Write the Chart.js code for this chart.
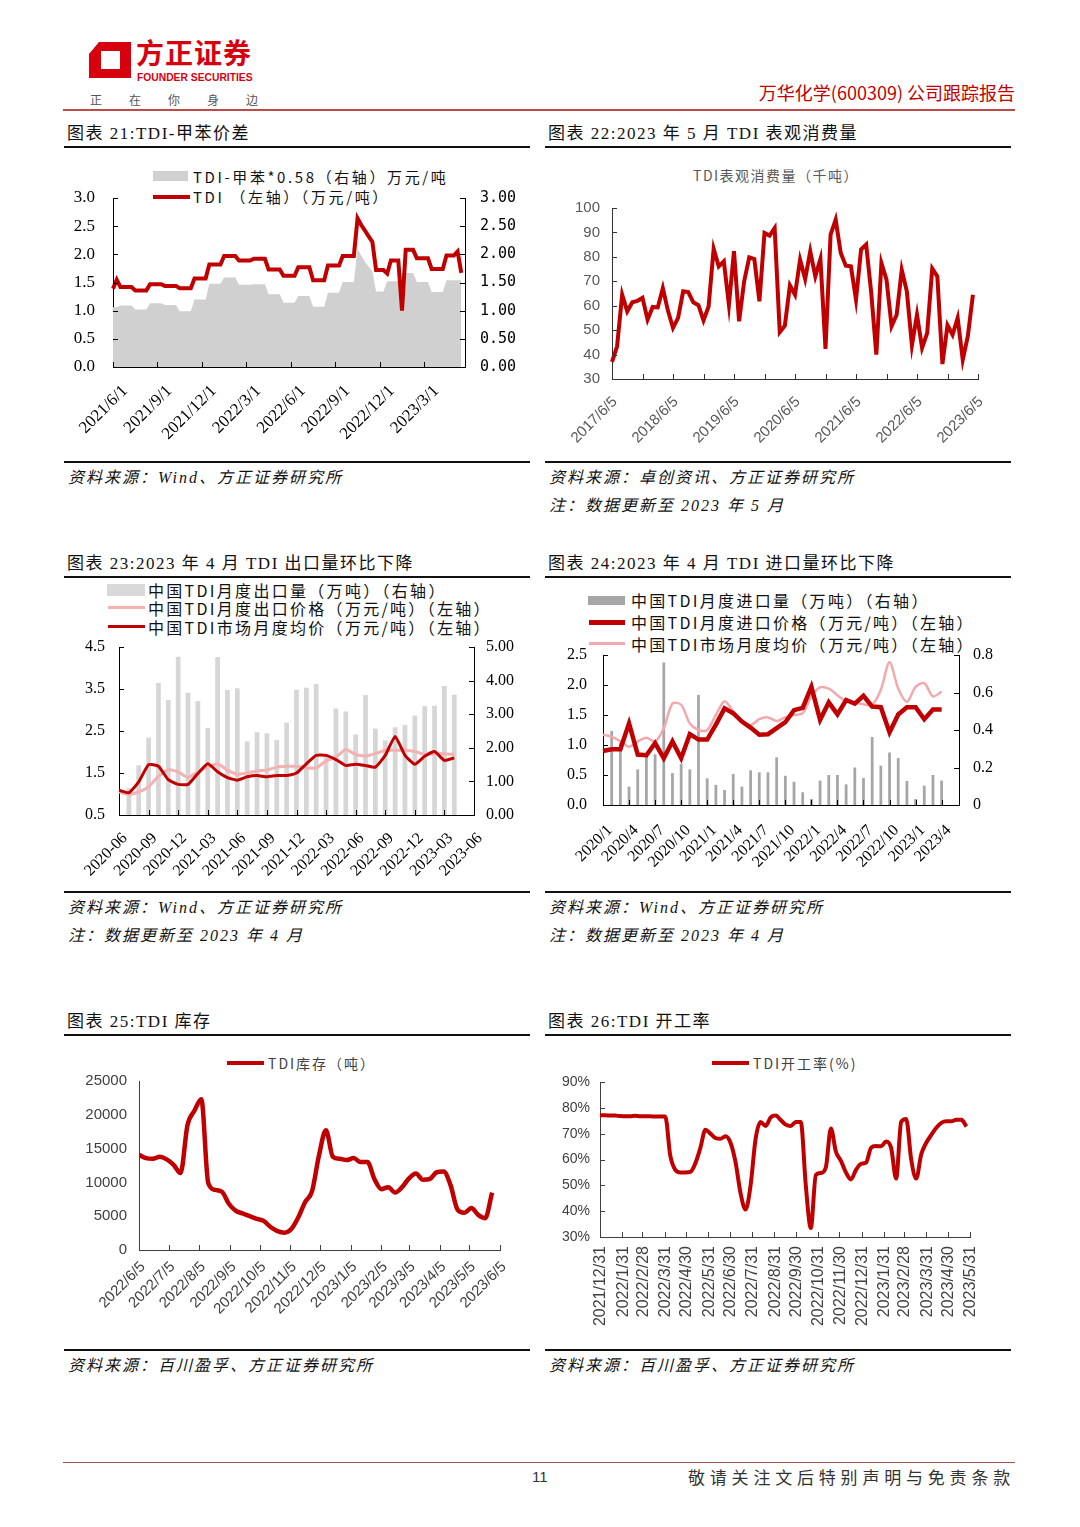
<!DOCTYPE html>
<html>
<head>
<meta charset="utf-8">
<script src="https://cdn.jsdelivr.net/npm/chart.js@4.4.1/dist/chart.umd.min.js"></script>
<style>
  body { margin:0; width:1080px; height:1527px; background:#fff; position:relative; overflow:hidden;
         font-family:"Liberation Serif","Noto Sans CJK SC",serif; color:#111; }
  .t { position:absolute; white-space:nowrap; line-height:1; }
  .ttl { font-size:17px; letter-spacing:1.5px; }
  .src { font-size:16px; letter-spacing:2px; font-style:italic; }
  .rule { position:absolute; height:2px; background:#111; }
  .lg { font-family:"Noto Sans CJK SC",sans-serif; }
  .sw { position:absolute; }
  canvas { position:absolute; }
</style>
</head>
<body>

<!-- header -->
<svg class="sw" style="left:89px;top:42px" width="42" height="36" viewBox="0 0 42 36">
  <path d="M10 0 H42 V36 H0 V12 Z M12 9 V27 H31 V9 Z" fill="#D7000F" fill-rule="evenodd"/>
</svg>
<div class="t lg" style="left:136px;top:38px;font-size:28px;font-weight:bold;color:#D7000F;letter-spacing:1px">方正证券</div>
<div class="t" style="left:137px;top:73px;font-family:'Liberation Sans',sans-serif;font-size:10.3px;font-weight:bold;color:#D7000F">FOUNDER SECURITIES</div>
<div class="t lg" style="left:90px;top:94px;font-size:12px;color:#555;letter-spacing:27px">正在你身边</div>
<div class="t lg" style="right:65px;top:83px;font-size:18px;color:#C00000">万华化学(600309) 公司跟踪报告</div>
<div class="rule" style="left:63px;top:109px;width:952px;background:#BE4B48"></div>

<!-- row 1 -->
<div class="t ttl" style="left:67px;top:125px">图表 21:TDI-甲苯价差</div>
<div class="rule" style="left:64px;top:146px;width:466px"></div>
<div class="t ttl" style="left:548px;top:125px">图表 22:2023 年 5 月 TDI 表观消费量</div>
<div class="rule" style="left:545px;top:146px;width:466px"></div>

<div class="sw" style="left:153px;top:171px;width:35px;height:10px;background:#D0D0D0"></div>
<div class="t lg" style="left:193px;top:169px;font-size:15px;letter-spacing:2.6px">TDI-甲苯*0.58（右轴）万元/吨</div>
<div class="sw" style="left:153px;top:195px;width:37px;height:4px;background:#C00000"></div>
<div class="t lg" style="left:193px;top:189px;font-size:15px;letter-spacing:2.6px">TDI  （左轴）（万元/吨）</div>

<div class="t lg" style="left:693px;top:168px;font-size:14px;letter-spacing:1.5px;color:#595959">TDI表观消费量（千吨）</div>

<canvas id="c21" width="465" height="310" style="left:65px;top:150px"></canvas>
<canvas id="c22" width="465" height="310" style="left:545px;top:150px"></canvas>

<div class="rule" style="left:64px;top:461px;width:466px"></div>
<div class="rule" style="left:545px;top:461px;width:466px"></div>
<div class="t src" style="left:68px;top:470px">资料来源：Wind、方正证券研究所</div>
<div class="t src" style="left:549px;top:470px">资料来源：卓创资讯、方正证券研究所</div>
<div class="t src" style="left:549px;top:498px">注：数据更新至 2023 年 5 月</div>

<!-- row 2 -->
<div class="t ttl" style="left:67px;top:555px">图表 23:2023 年 4 月 TDI 出口量环比下降</div>
<div class="rule" style="left:64px;top:576px;width:466px"></div>
<div class="t ttl" style="left:548px;top:555px">图表 24:2023 年 4 月 TDI 进口量环比下降</div>
<div class="rule" style="left:545px;top:576px;width:466px"></div>

<div class="sw" style="left:107px;top:584px;width:38px;height:12px;background:#D9D9D9"></div>
<div class="t lg" style="left:148px;top:582px;font-size:16px;letter-spacing:2.3px">中国TDI月度出口量（万吨）（右轴）</div>
<div class="sw" style="left:108px;top:606px;width:37px;height:3px;background:#F4B1B1"></div>
<div class="t lg" style="left:148px;top:600px;font-size:16px;letter-spacing:2.3px">中国TDI月度出口价格（万元/吨）（左轴）</div>
<div class="sw" style="left:108px;top:625px;width:37px;height:3px;background:#C00000"></div>
<div class="t lg" style="left:148px;top:619px;font-size:16px;letter-spacing:2.3px">中国TDI市场月度均价（万元/吨）（左轴）</div>

<div class="sw" style="left:588px;top:596px;width:37px;height:9px;background:#A6A6A6"></div>
<div class="t lg" style="left:631px;top:592px;font-size:16px;letter-spacing:2.3px">中国TDI月度进口量（万吨）（右轴）</div>
<div class="sw" style="left:589px;top:620px;width:36px;height:5px;background:#C00000"></div>
<div class="t lg" style="left:631px;top:614px;font-size:16px;letter-spacing:2.3px">中国TDI月度进口价格（万元/吨）（左轴）</div>
<div class="sw" style="left:589px;top:642px;width:36px;height:3px;background:#F2A9AE"></div>
<div class="t lg" style="left:631px;top:636px;font-size:16px;letter-spacing:2.3px">中国TDI市场月度均价（万元/吨）（左轴）</div>

<canvas id="c23" width="465" height="310" style="left:65px;top:580px"></canvas>
<canvas id="c24" width="465" height="310" style="left:545px;top:580px"></canvas>

<div class="rule" style="left:64px;top:891px;width:466px"></div>
<div class="rule" style="left:545px;top:891px;width:466px"></div>
<div class="t src" style="left:68px;top:900px">资料来源：Wind、方正证券研究所</div>
<div class="t src" style="left:68px;top:928px">注：数据更新至 2023 年 4 月</div>
<div class="t src" style="left:549px;top:900px">资料来源：Wind、方正证券研究所</div>
<div class="t src" style="left:549px;top:928px">注：数据更新至 2023 年 4 月</div>

<!-- row 3 -->
<div class="t ttl" style="left:67px;top:1013px">图表 25:TDI 库存</div>
<div class="rule" style="left:64px;top:1034px;width:466px"></div>
<div class="t ttl" style="left:548px;top:1013px">图表 26:TDI 开工率</div>
<div class="rule" style="left:545px;top:1034px;width:466px"></div>

<div class="sw" style="left:227px;top:1061px;width:37px;height:4px;background:#C00000"></div>
<div class="t lg" style="left:268px;top:1056px;font-size:14px;letter-spacing:2px;color:#404040">TDI库存（吨）</div>
<div class="sw" style="left:712px;top:1061px;width:37px;height:4px;background:#C00000"></div>
<div class="t lg" style="left:753px;top:1056px;font-size:14px;letter-spacing:2px;color:#404040">TDI开工率(%)</div>

<canvas id="c25" width="465" height="309" style="left:65px;top:1038px"></canvas>
<canvas id="c26" width="465" height="309" style="left:545px;top:1038px"></canvas>

<div class="rule" style="left:64px;top:1349px;width:466px"></div>
<div class="rule" style="left:545px;top:1349px;width:466px"></div>
<div class="t src" style="left:68px;top:1358px">资料来源：百川盈孚、方正证券研究所</div>
<div class="t src" style="left:549px;top:1358px">资料来源：百川盈孚、方正证券研究所</div>

<!-- footer -->
<div class="rule" style="left:63px;top:1462px;width:952px;height:1px;background:#A0524F"></div>
<div class="t" style="left:532px;top:1469px;font-family:'Liberation Sans',sans-serif;font-size:15px;color:#333">11</div>
<div class="t lg" style="right:65px;top:1468px;font-size:17px;letter-spacing:4.8px;color:#333">敬请关注文后特别声明与免责条款</div>

<script>
const RED = '#C00000';
const PINK = '#F4B1B1';
const SERIF = '"Liberation Serif", "Times New Roman", serif';
const SANS = '"Liberation Sans", Arial, sans-serif';

// chart 21: TDI and TDI-toluene spread, quarter-month steps
const sprMonths = ['2021/6/1','2021/7/1','2021/8/1','2021/9/1','2021/10/1','2021/11/1','2021/12/1','2022/1/1',
  '2022/2/1','2022/3/1','2022/4/1','2022/5/1','2022/6/1','2022/7/1','2022/8/1','2022/9/1',
  '2022/10/1','2022/11/1','2022/12/1','2023/1/1','2023/2/1','2023/3/1','2023/4/1','2023/5/1'];
const tdiPrice = [
  1.39, 1.55, 1.42, 1.42, 1.42, 1.42, 1.36, 1.36,
  1.36, 1.36, 1.47, 1.47, 1.47, 1.47, 1.44, 1.44,
  1.44, 1.44, 1.40, 1.40, 1.40, 1.40, 1.57, 1.57,
  1.57, 1.57, 1.82, 1.82, 1.82, 1.82, 1.97, 1.97,
  1.97, 1.97, 1.89, 1.89, 1.89, 1.89, 1.92, 1.92,
  1.92, 1.92, 1.73, 1.73, 1.73, 1.73, 1.62, 1.62,
  1.62, 1.62, 1.77, 1.77, 1.77, 1.77, 1.54, 1.54,
  1.54, 1.54, 1.80, 1.80, 1.80, 1.80, 1.97, 1.97,
  1.97, 1.97, 2.64, 2.52, 2.42, 2.32, 2.22, 1.72,
  1.72, 1.72, 1.66, 1.89, 1.89, 1.89, 1.00, 2.08,
  2.08, 2.08, 1.93, 1.93, 1.93, 1.93, 1.74, 1.74,
  1.74, 1.74, 1.98, 1.98, 1.98, 2.05, 1.67, null];
const tdiSpread = [
  1.06, 1.06, 1.09, 1.09, 1.09, 1.09, 1.02, 1.02,
  1.02, 1.02, 1.13, 1.13, 1.13, 1.13, 1.10, 1.10,
  1.10, 1.10, 0.99, 0.99, 0.99, 0.99, 1.20, 1.20,
  1.20, 1.20, 1.48, 1.48, 1.48, 1.48, 1.59, 1.59,
  1.59, 1.59, 1.46, 1.46, 1.46, 1.46, 1.47, 1.47,
  1.47, 1.47, 1.29, 1.29, 1.29, 1.29, 1.14, 1.14,
  1.14, 1.14, 1.26, 1.26, 1.26, 1.26, 1.07, 1.07,
  1.07, 1.07, 1.32, 1.32, 1.32, 1.32, 1.51, 1.51,
  1.51, 1.51, 2.10, 1.98, 1.87, 1.78, 1.70, 1.34,
  1.34, 1.34, 1.52, 1.52, 1.52, 1.52, 1.67, 1.67,
  1.67, 1.67, 1.51, 1.51, 1.51, 1.51, 1.33, 1.33,
  1.33, 1.33, 1.54, 1.54, 1.54, 1.54, 1.54, null];
const sprLabels = sprMonths.flatMap(m => [m, '', '', '']);

// chart 22: apparent consumption, kt
const consLabels = ['2017/6/5','2017/7/5','2017/8/5','2017/9/5','2017/10/5','2017/11/5','2017/12/5',
  '2018/1/5','2018/2/5','2018/3/5','2018/4/5','2018/5/5','2018/6/5','2018/7/5','2018/8/5','2018/9/5','2018/10/5','2018/11/5','2018/12/5',
  '2019/1/5','2019/2/5','2019/3/5','2019/4/5','2019/5/5','2019/6/5','2019/7/5','2019/8/5','2019/9/5','2019/10/5','2019/11/5','2019/12/5',
  '2020/1/5','2020/2/5','2020/3/5','2020/4/5','2020/5/5','2020/6/5','2020/7/5','2020/8/5','2020/9/5','2020/10/5','2020/11/5','2020/12/5',
  '2021/1/5','2021/2/5','2021/3/5','2021/4/5','2021/5/5','2021/6/5','2021/7/5','2021/8/5','2021/9/5','2021/10/5','2021/11/5','2021/12/5',
  '2022/1/5','2022/2/5','2022/3/5','2022/4/5','2022/5/5','2022/6/5','2022/7/5','2022/8/5','2022/9/5','2022/10/5','2022/11/5','2022/12/5',
  '2023/1/5','2023/2/5','2023/3/5','2023/4/5','2023/5/5','2023/6/5'];
const consVol = [
  37.0, 43.4, 64.5, 57.7, 61.4, 62.0, 63.2, 54.3, 59.5, 59.3, 67.2, 58.0,
  50.9, 55.0, 65.9, 65.6, 61.4, 60.2, 54.0, 59.7, 83.3, 76.1, 78.2, 60.4,
  82.3, 53.6, 70.0, 79.8, 79.1, 61.8, 89.8, 88.7, 91.8, 49.2, 51.8, 68.3,
  64.5, 78.8, 70.9, 82.3, 72.0, 79.1, 42.3, 89.1, 95.2, 81.6, 76.4, 76.1,
  62.5, 83.0, 85.0, 65.2, 40.0, 77.5, 70.7, 51.6, 56.3, 74.7, 65.9, 43.8,
  56.3, 42.7, 48.8, 75.2, 72.0, 36.1, 52.0, 48.1, 55.0, 37.9, 47.5, 64.5, null];

// chart 23: exports
const expLabels = ['2020-06','2020-07','2020-08','2020-09','2020-10','2020-11','2020-12',
  '2021-01','2021-02','2021-03','2021-04','2021-05','2021-06','2021-07','2021-08','2021-09','2021-10','2021-11','2021-12',
  '2022-01','2022-02','2022-03','2022-04','2022-05','2022-06','2022-07','2022-08','2022-09','2022-10','2022-11','2022-12',
  '2023-01','2023-02','2023-03','2023-04','2023-05','2023-06'];
const expVol = [null, 0.80, 1.48, 2.30, 3.93, 3.42, 4.71, 3.64, 3.39, 2.59, 4.70, 3.72, 3.77, 2.19, 2.46, 2.43,
  2.23, 2.75, 3.73, 3.79, 3.90, 1.75, 3.17, 3.08, 2.40, 3.57, 2.57, 2.22, 2.61, 2.68, 2.96, 3.24, 3.25, 3.84, 3.58, null, null];
const expPrice = [1.05, 0.99, 1.05, 1.17, 1.42, 1.58, 1.53, 1.39, 1.53, 1.64, 1.72, 1.57, 1.47, 1.50, 1.55, 1.57,
  1.64, 1.66, 1.66, 1.62, 1.62, 1.79, 1.88, 2.06, 1.94, 1.90, 1.96, 2.04, 2.04, 2.04, 2.01, 1.94, 1.96, 1.96, 1.94, null, null];
const mktPrice23 = [1.09, 1.03, 1.29, 1.70, 1.66, 1.34, 1.23, 1.23, 1.49, 1.72, 1.53, 1.39, 1.33, 1.41, 1.44, 1.41,
  1.44, 1.44, 1.50, 1.72, 1.92, 1.92, 1.82, 1.68, 1.71, 1.68, 1.64, 1.92, 2.37, 1.92, 1.71, 1.90, 2.01, 1.80, 1.86, null, null];

// chart 24: imports
const impLabels = ['2020/1','2020/2','2020/3','2020/4','2020/5','2020/6','2020/7','2020/8','2020/9','2020/10','2020/11','2020/12',
  '2021/1','2021/2','2021/3','2021/4','2021/5','2021/6','2021/7','2021/8','2021/9','2021/10','2021/11','2021/12',
  '2022/1','2022/2','2022/3','2022/4','2022/5','2022/6','2022/7','2022/8','2022/9','2022/10','2022/11','2022/12',
  '2023/1','2023/2','2023/3','2023/4','2023/5','2023/6'];
const impVol = [null, 0.395, 0.33, 0.098, 0.19, 0.26, 0.27, 0.76, 0.17, 0.22, 0.19, 0.587, 0.142, 0.107, 0.08, 0.165,
  0.098, 0.185, 0.174, 0.174, 0.254, 0.156, 0.124, 0.068, 0.032, 0.13, 0.16, 0.16, 0.11, 0.20, 0.144, 0.363,
  0.21, 0.28, 0.25, 0.128, 0.032, 0.103, 0.16, 0.13, null, null];
const impPrice = [0.90, 0.93, 0.93, 1.36, 0.84, 0.83, 1.03, 0.78, 1.06, 0.78, 1.18, 1.09, 1.09, 1.34, 1.61, 1.53,
  1.39, 1.29, 1.17, 1.18, 1.28, 1.38, 1.58, 1.62, 1.97, 1.42, 1.71, 1.51, 1.75, 1.69, 1.82, 1.64,
  1.63, 1.21, 1.51, 1.63, 1.63, 1.43, 1.59, 1.59, null, null];
const mktPrice24 = [1.17, 1.14, 1.06, 0.97, 1.06, 1.12, 1.06, 1.28, 1.69, 1.67, 1.36, 1.25, 1.25, 1.50, 1.73, 1.56,
  1.40, 1.33, 1.43, 1.46, 1.40, 1.46, 1.50, 1.53, 1.81, 1.96, 1.94, 1.83, 1.73, 1.71, 1.68, 1.67,
  1.92, 2.38, 1.94, 1.72, 1.97, 2.03, 1.81, 1.89, null, null];

// chart 25: inventory, weekly from 2022/6/5
const invStart = '2022/6/5';
const invTicks = ['2022/6/5','2022/7/5','2022/8/5','2022/9/5','2022/10/5','2022/11/5','2022/12/5',
  '2023/1/5','2023/2/5','2023/3/5','2023/4/5','2023/5/5','2023/6/5'];
const invValues = [14100, 13600, 13500, 13800, 13400, 12600, 11400, 18450, 20600, 22300,
  9900, 8900, 8600, 6800, 5800, 5400, 5000, 4600, 4300, 3400,
  2800, 2560, 3100, 4800, 7100, 8700, 14000, 17700, 13800, 13500,
  13300, 13600, 13000, 13000, 10500, 9000, 9300, 8500, 9300, 10600,
  11300, 10400, 10500, 11500, 11600, 9600, 6000, 5500, 6200, 5200,
  4700, 8500];

// chart 26: operating rate, weekly from 2021/12/31
const rateStart = '2021/12/31';
const rateTicks = ['2021/12/31','2022/1/31','2022/2/28','2022/3/31','2022/4/30','2022/5/31','2022/6/30','2022/7/31',
  '2022/8/31','2022/9/30','2022/10/31','2022/11/30','2022/12/31','2023/1/31','2023/2/28','2023/3/31','2023/4/30','2023/5/31'];
const rateValues = [77.1, 77.1, 77.0, 77.0, 76.8, 76.7, 76.7, 76.9, 76.7, 76.7, 76.7, 76.6, 76.6, 76.6,
  61.5, 56, 55, 55, 55.2, 58.5, 64.5, 71.5, 70, 68.3,
  68, 69, 66.5, 59, 47, 40.6, 50, 68, 74.5, 73,
  76.3, 77, 75.3, 73.5, 73, 74.5, 74.5, 50, 33.5, 54,
  54.8, 57, 72, 63, 59.5, 55, 52.3, 56, 58.3, 58.8,
  64.5, 65.2, 65.1, 67, 64.5, 52.6, 74.5, 75.7, 60, 52.6,
  62, 66.5, 69.5, 72.3, 74.2, 74.8, 74.8, 75.4, 75.4, 72.8];

const dayDiff = (a, b) => Math.round((new Date(b) - new Date(a)) / 864e5);

// short tick marks pointing into the plot, like the source charts
const innerTicks = {
  id: 'innerTicks',
  afterDraw(chart, args, opts) {
    if (!opts.axes) return;
    const ctx = chart.ctx, a = chart.chartArea;
    ctx.save();
    ctx.strokeStyle = opts.color;
    ctx.lineWidth = 1;
    opts.axes.forEach(id => {
      const s = chart.scales[id];
      s.ticks.forEach((t, i) => {
        const p = Math.round(s.getPixelForTick(i)) + 0.5;
        ctx.beginPath();
        if (s.isHorizontal()) { ctx.moveTo(p, a.bottom); ctx.lineTo(p, a.bottom - opts.len); }
        else if (s.position === 'left') { ctx.moveTo(a.left, p); ctx.lineTo(a.left + opts.len, p); }
        else { ctx.moveTo(a.right, p); ctx.lineTo(a.right - opts.len, p); }
        ctx.stroke();
      });
    });
    ctx.restore();
  }
};
Chart.register(innerTicks);

const fixW = w => s => { s.width = w; s.paddingTop = 0; s.paddingBottom = 0; };
const fixH = h => s => { s.height = h; s.paddingLeft = 0; s.paddingRight = 0; };
const noGrid = { display: false, drawTicks: false };

function baseOptions(pad, ticksCfg) {
  return {
    animation: false, responsive: false, events: [],
    layout: { padding: pad, autoPadding: false },
    plugins: { legend: { display: false }, tooltip: { enabled: false }, innerTicks: ticksCfg },
  };
}

// ---- chart 21
const o21 = baseOptions({ top: 48, left: 0, right: 0, bottom: 0 }, { axes: ['x', 'y', 'y1'], len: 5, color: '#000' });
o21.scales = {
  x: { type: 'category', offset: false, grid: noGrid, border: { color: '#000' },
       afterBuildTicks: s => { s.ticks = s.ticks.filter(t => t.value % 12 === 0); },
       afterFit: fixH(93),
       ticks: { autoSkip: false, minRotation: 45, maxRotation: 45, padding: 14, labelOffset: 12, color: '#000',
                font: { family: SERIF, size: 17 }, callback: v => sprLabels[v] } },
  y: { position: 'left', min: 0, max: 3, grid: noGrid, border: { color: '#000' }, afterFit: fixW(48),
       ticks: { stepSize: 0.5, padding: 18, color: '#000', font: { family: SERIF, size: 17 }, callback: v => v.toFixed(1) } },
  y1: { position: 'right', min: 0, max: 3, grid: noGrid, border: { color: '#000' }, afterFit: fixW(65),
       ticks: { stepSize: 0.5, padding: 15, color: '#000', font: { family: '"DejaVu Sans Mono", monospace', size: 15 }, callback: v => v.toFixed(2) } }
};
new Chart(document.getElementById('c21'), {
  type: 'line',
  data: { labels: sprLabels, datasets: [
    { label: 'TDI （左轴）（万元/吨）', data: tdiPrice, yAxisID: 'y', borderColor: RED, borderWidth: 4,
      pointRadius: 0, tension: 0, order: 0 },
    { label: 'TDI-甲苯*0.58（右轴）万元/吨', data: tdiSpread, yAxisID: 'y1', borderWidth: 0, borderColor: 'rgba(0,0,0,0)',
      backgroundColor: '#D0D0D0', fill: 'origin', pointRadius: 0, tension: 0, order: 1 }
  ] },
  options: o21
});

// ---- chart 22
const o22 = baseOptions({ top: 58, left: 0, right: 32, bottom: 0 }, { axes: ['x', 'y'], len: 5, color: '#333' });
o22.scales = {
  x: { type: 'category', offset: false, grid: noGrid, border: { color: '#333' },
       afterBuildTicks: s => { s.ticks = s.ticks.filter(t => t.value % 6 === 0); },
       afterFit: fixH(81),
       ticks: { autoSkip: false, minRotation: 45, maxRotation: 45, padding: 14, labelOffset: 3, color: '#595959',
                font: { family: SANS, size: 15 }, callback: v => (v % 12 === 0 ? consLabels[v] : '') } },
  y: { min: 30, max: 100, grid: noGrid, border: { color: '#333' }, afterFit: fixW(67),
       ticks: { stepSize: 10, padding: 12, color: '#595959', font: { family: SANS, size: 15 } } }
};
new Chart(document.getElementById('c22'), {
  type: 'line',
  data: { labels: consLabels, datasets: [
    { label: 'TDI表观消费量（千吨）', data: consVol, borderColor: RED, borderWidth: 4, pointRadius: 0, tension: 0 }
  ] },
  options: o22
});

// ---- chart 23
const o23 = baseOptions({ top: 67, left: 0, right: 0, bottom: 0 }, { axes: ['x', 'y', 'y1'], len: 5, color: '#000' });
o23.scales = {
  x: { type: 'category', offset: false, grid: noGrid, border: { color: '#000' },
       afterBuildTicks: s => { s.ticks = s.ticks.filter(t => t.value % 3 === 0); },
       afterFit: fixH(75),
       ticks: { autoSkip: false, minRotation: 45, maxRotation: 45, padding: 14, labelOffset: 6, color: '#000',
                font: { family: SERIF, size: 16 }, callback: v => expLabels[v] } },
  y: { position: 'left', min: 0.5, max: 4.5, grid: noGrid, border: { color: '#000' }, afterFit: fixW(54),
       ticks: { stepSize: 1, padding: 14, color: '#000', font: { family: SERIF, size: 16 }, callback: v => v.toFixed(1) } },
  y1: { position: 'right', min: 0, max: 5, grid: noGrid, border: { color: '#000' }, afterFit: fixW(56),
       ticks: { stepSize: 1, padding: 12, color: '#000', font: { family: SERIF, size: 16 }, callback: v => v.toFixed(2) } }
};
new Chart(document.getElementById('c23'), {
  type: 'bar',
  data: { labels: expLabels, datasets: [
    { type: 'line', label: '中国TDI市场月度均价（万元/吨）（左轴）', data: mktPrice23, yAxisID: 'y',
      borderColor: RED, borderWidth: 3, pointRadius: 0, tension: 0.15, order: 0 },
    { type: 'line', label: '中国TDI月度出口价格（万元/吨）（左轴）', data: expPrice, yAxisID: 'y',
      borderColor: PINK, borderWidth: 3, pointRadius: 0, tension: 0.15, order: 1 },
    { type: 'bar', label: '中国TDI月度出口量（万吨）（右轴）', data: expVol, yAxisID: 'y1',
      backgroundColor: '#D6D6D6', barPercentage: 0.48, categoryPercentage: 1, order: 2 }
  ] },
  options: o23
});

// ---- chart 24
const o24 = baseOptions({ top: 75, left: 0, right: 0, bottom: 0 }, { axes: ['x', 'y', 'y1'], len: 5, color: '#000' });
o24.scales = {
  x: { type: 'category', offset: false, grid: noGrid, border: { color: '#000' },
       afterBuildTicks: s => { s.ticks = s.ticks.filter(t => t.value % 3 === 0 && t.value <= 39); },
       afterFit: fixH(85),
       ticks: { autoSkip: false, minRotation: 45, maxRotation: 45, padding: 16, labelOffset: 7, color: '#000',
                font: { family: SERIF, size: 16 }, callback: v => impLabels[v] } },
  y: { position: 'left', min: 0, max: 2.5, grid: noGrid, border: { color: '#000' }, afterFit: fixW(58),
       ticks: { stepSize: 0.5, padding: 16, color: '#000', font: { family: SERIF, size: 16 }, callback: v => v.toFixed(1) } },
  y1: { position: 'right', min: 0, max: 0.8, grid: noGrid, border: { color: '#000' }, afterFit: fixW(51),
       ticks: { stepSize: 0.2, padding: 14, color: '#000', font: { family: SERIF, size: 16 },
                callback: v => (v === 0 ? '0' : v.toFixed(1)) } }
};
new Chart(document.getElementById('c24'), {
  type: 'bar',
  data: { labels: impLabels, datasets: [
    { type: 'line', label: '中国TDI月度进口价格（万元/吨）（左轴）', data: impPrice, yAxisID: 'y',
      borderColor: RED, borderWidth: 4.5, pointRadius: 0, tension: 0, order: 0 },
    { type: 'line', label: '中国TDI市场月度均价（万元/吨）（左轴）', data: mktPrice24, yAxisID: 'y',
      borderColor: '#F2A9AE', borderWidth: 2.5, pointRadius: 0, tension: 0.3, order: 1 },
    { type: 'bar', label: '中国TDI月度进口量（万吨）（右轴）', data: impVol, yAxisID: 'y1',
      backgroundColor: '#A6A6A6', barPercentage: 0.32, categoryPercentage: 1, order: 2 }
  ] },
  options: o24
});

// ---- chart 25
const o25 = baseOptions({ top: 43, left: 0, right: 30, bottom: 0 }, { axes: ['x'], len: 5, color: '#404040' });
o25.scales = {
  x: { type: 'linear', min: 0, max: dayDiff(invStart, invTicks[invTicks.length - 1]), grid: noGrid, border: { color: '#404040' },
       afterBuildTicks: s => { s.ticks = invTicks.map(d => ({ value: dayDiff(invStart, d) })); },
       afterFit: fixH(97),
       ticks: { autoSkip: false, minRotation: 45, maxRotation: 45, padding: 8, labelOffset: 4, color: '#404040',
                font: { family: SANS, size: 15 }, callback: (v, i) => invTicks[i] } },
  y: { min: 0, max: 25000, grid: noGrid, border: { color: '#404040' }, afterFit: fixW(74),
       ticks: { stepSize: 5000, padding: 12, color: '#404040', font: { family: SANS, size: 15 }, callback: v => String(v) } }
};
new Chart(document.getElementById('c25'), {
  type: 'line',
  data: { datasets: [
    { label: 'TDI库存（吨）', data: invValues.map((v, i) => ({ x: i * 7, y: v })), borderColor: RED, borderWidth: 4.5,
      pointRadius: 0, cubicInterpolationMode: 'monotone' }
  ] },
  options: o25
});

// ---- chart 26
const o26 = baseOptions({ top: 44, left: 0, right: 40, bottom: 0 }, { axes: ['x', 'y'], len: 5, color: '#404040' });
o26.scales = {
  x: { type: 'linear', min: 0, max: dayDiff(rateStart, rateTicks[rateTicks.length - 1]), grid: noGrid, border: { color: '#404040' },
       afterBuildTicks: s => { s.ticks = rateTicks.map(d => ({ value: dayDiff(rateStart, d) })); },
       afterFit: fixH(110),
       ticks: { autoSkip: false, minRotation: 90, maxRotation: 90, padding: 9, labelOffset: 1, color: '#404040',
                font: { family: SANS, size: 16 }, callback: (v, i) => rateTicks[i] } },
  y: { min: 30, max: 90, grid: noGrid, border: { color: '#404040' }, afterFit: fixW(55),
       ticks: { stepSize: 10, padding: 10, color: '#404040', font: { family: SANS, size: 14 }, callback: v => v + '%' } }
};
new Chart(document.getElementById('c26'), {
  type: 'line',
  data: { datasets: [
    { label: 'TDI开工率(%)', data: rateValues.map((v, i) => ({ x: i * 7, y: v })), borderColor: RED, borderWidth: 4,
      pointRadius: 0, cubicInterpolationMode: 'monotone' }
  ] },
  options: o26
});
</script>
</body>
</html>
